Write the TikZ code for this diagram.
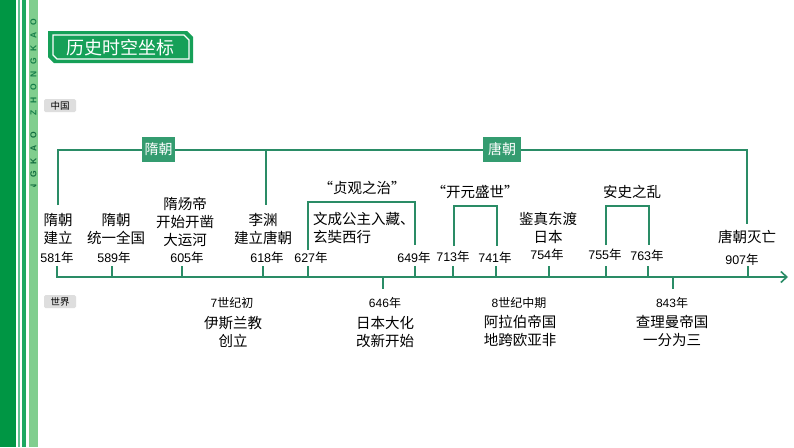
\documentclass[tikz,border=0pt]{standalone}
\usepackage{fontspec}
\setmainfont{Noto Sans CJK SC}
\newfontfamily\lat{Liberation Sans}
\usetikzlibrary{arrows.meta}
\definecolor{tl}{RGB}{42,140,102}
\definecolor{boxg}{RGB}{52,156,112}
\definecolor{titleg}{RGB}{22,160,88}
\definecolor{darkband}{RGB}{0,150,68}
\definecolor{stripeg}{RGB}{30,168,98}
\definecolor{lightband}{RGB}{128,206,142}
\definecolor{tagbg}{RGB}{222,222,222}
\newcommand\yrlab[1]{{\lat #1}年}
\begin{document}
\begin{tikzpicture}[x=1pt,y=-1pt,
  line/.style={tl,line width=1.8pt},
  ev/.style={align=center,font=\fontsize{14.5}{18}\selectfont,inner sep=0pt},
  yr/.style={font=\fontsize{12.5}{14}\selectfont,inner sep=0pt},
  wd/.style={font=\fontsize{12}{14}\selectfont,inner sep=0pt},
  tag/.style={fill=tagbg,rounded corners=1.5pt,font=\fontsize{9.5}{11}\selectfont,minimum width=32pt,minimum height=13pt,inner sep=0pt},
  dyn/.style={fill=boxg,text=white,font=\fontsize{14}{16}\selectfont,minimum height=25pt,inner sep=0pt},
  zkl/.style={rotate=90,font=\lat\bfseries\fontsize{8.5}{9}\selectfont,inner sep=0pt}]
\path[use as bounding box] (0,0) rectangle (794,447);
\fill[white] (0,0) rectangle (794,447);
% side bands
\fill[darkband] (0,0) rectangle (16,447);
\fill[stripeg!70] (18,0) rectangle (20,447);
\fill[stripeg] (22,0) rectangle (26,447);
\fill[lightband] (29,0) rectangle (38,447);
\foreach \l [count=\i] in {O,A,K,G,N,O,H,Z}{
  \node[zkl,text=stripeg!75!black] (zk\i) at (33.5,{9+13*\i}) {\l};
}
\begin{scope}
\clip (29,124) rectangle (38,186);
\foreach \l [count=\i] in {O,A,K,G,N,O,H,Z}{
  \node[zkl,text=stripeg!65!black] (zz\i) at (33.5,{122+13*\i}) {\l};
}
\end{scope}
% title
\fill[titleg] (48,31) -- (187,31) -- (193,37) -- (193,63) -- (54,63) -- (48,57) -- cycle;
\draw[white,line width=1.2pt] (53,35) -- (184,35) -- (189,40) -- (189,59) -- (57,59) -- (53,55) -- cycle;
\node[text=white,font=\fontsize{18}{20}\selectfont,inner sep=0pt] (title) at (120,48) {历史时空坐标};
% tags
\node[tag] (cn) at (60,105.5) {中国};
\node[tag] (wd) at (60,301.5) {世界};
% dynasty bracket
\coordinate (b1) at (58,205);
\coordinate (b2) at (58,150);
\coordinate (b3) at (747,150);
\coordinate (b4) at (747,224);
\coordinate (b5) at (266,150);
\coordinate (b6) at (266,205);
\draw[line,line join=miter] (b1) -- (b2) -- (b3) -- (b4);
\draw[line] (b5) -- (b6);
\node[dyn,minimum width=33pt] (sui) at (158.5,149.5) {隋朝};
\node[dyn,minimum width=38pt] (tang) at (502,149.5) {唐朝};
% main timeline
\coordinate (t0) at (56,277);
\coordinate (t1) at (788,277);
\draw[line,-{Straight Barb[length=6pt,width=11pt,line width=1.6pt]}] (t0) -- (t1);
\foreach \n/\x in {581/57,589/112,605/182,618/263,627/308,649/415,713/453,741/496,754/549,755/606,763/648,907/748}{
  \coordinate (u\n) at (\x,277);
  \coordinate (v\n) at (\x,266);
  \draw[line] (u\n) -- (v\n);
}
\foreach \n/\x in {646/383,843/673}{
  \coordinate (u\n) at (\x,277);
  \coordinate (v\n) at (\x,289);
  \draw[line] (u\n) -- (v\n);
}
% year labels
\node[yr] (y581) at (57,258) {\yrlab{581}};
\node[yr] (y589) at (114,258) {\yrlab{589}};
\node[yr] (y605) at (187,258) {\yrlab{605}};
\node[yr] (y618) at (267,258) {\yrlab{618}};
\node[yr] (y627) at (311,258) {\yrlab{627}};
\node[yr] (y649) at (414,258) {\yrlab{649}};
\node[yr] (y713) at (453,257) {\yrlab{713}};
\node[yr] (y741) at (495,258) {\yrlab{741}};
\node[yr] (y754) at (547,255) {\yrlab{754}};
\node[yr] (y755) at (605,255) {\yrlab{755}};
\node[yr] (y763) at (647,256) {\yrlab{763}};
\node[yr] (y907) at (742,260) {\yrlab{907}};
% events
\node[ev] (e581) at (58,229) {隋朝\\建立};
\node[ev] (e589) at (116,229) {隋朝\\统一全国};
\node[ev] (e605) at (185,222) {隋炀帝\\开始开凿\\大运河};
\node[ev] (e618) at (263,229) {李渊\\建立唐朝};
\node[ev,align=left,anchor=west] (e627) at (313,227.5) {文成公主入藏、\\玄奘西行};
\node[ev] (e754) at (548,227.5) {鉴真东渡\\日本};
\node[ev] (e907) at (747,237) {唐朝灭亡};
% period brackets
\coordinate (p1) at (308,250);
\coordinate (p2) at (308,202);
\coordinate (p3) at (415,202);
\coordinate (p4) at (415,245);
\draw[line,line join=miter] (p1) -- (p2) -- (p3) -- (p4);
\node[ev] (zg) at (362,188) {“贞观之治”};
\coordinate (q1) at (454,246);
\coordinate (q2) at (454,206);
\coordinate (q3) at (497,206);
\coordinate (q4) at (497,246);
\draw[line,line join=miter] (q1) -- (q2) -- (q3) -- (q4);
\node[ev] (ky) at (475,192) {“开元盛世”};
\coordinate (r1) at (606,245);
\coordinate (r2) at (606,206);
\coordinate (r3) at (649,206);
\coordinate (r4) at (649,245);
\draw[line,line join=miter] (r1) -- (r2) -- (r3) -- (r4);
\node[ev] (as) at (632,192) {安史之乱};
% world
\node[wd] (w7) at (232,303) {{\lat 7}世纪初};
\node[ev] (w7e) at (233,332) {伊斯兰教\\创立};
\node[wd] (w646) at (385,303) {\yrlab{646}};
\node[ev] (w646e) at (385,332) {日本大化\\改新开始};
\node[wd] (w8) at (519,303) {{\lat 8}世纪中期};
\node[ev] (w8e) at (520,331) {阿拉伯帝国\\地跨欧亚非};
\node[wd] (w843) at (672,303) {\yrlab{843}};
\node[ev] (w843e) at (672,331) {查理曼帝国\\一分为三};
\end{tikzpicture}
\end{document}
